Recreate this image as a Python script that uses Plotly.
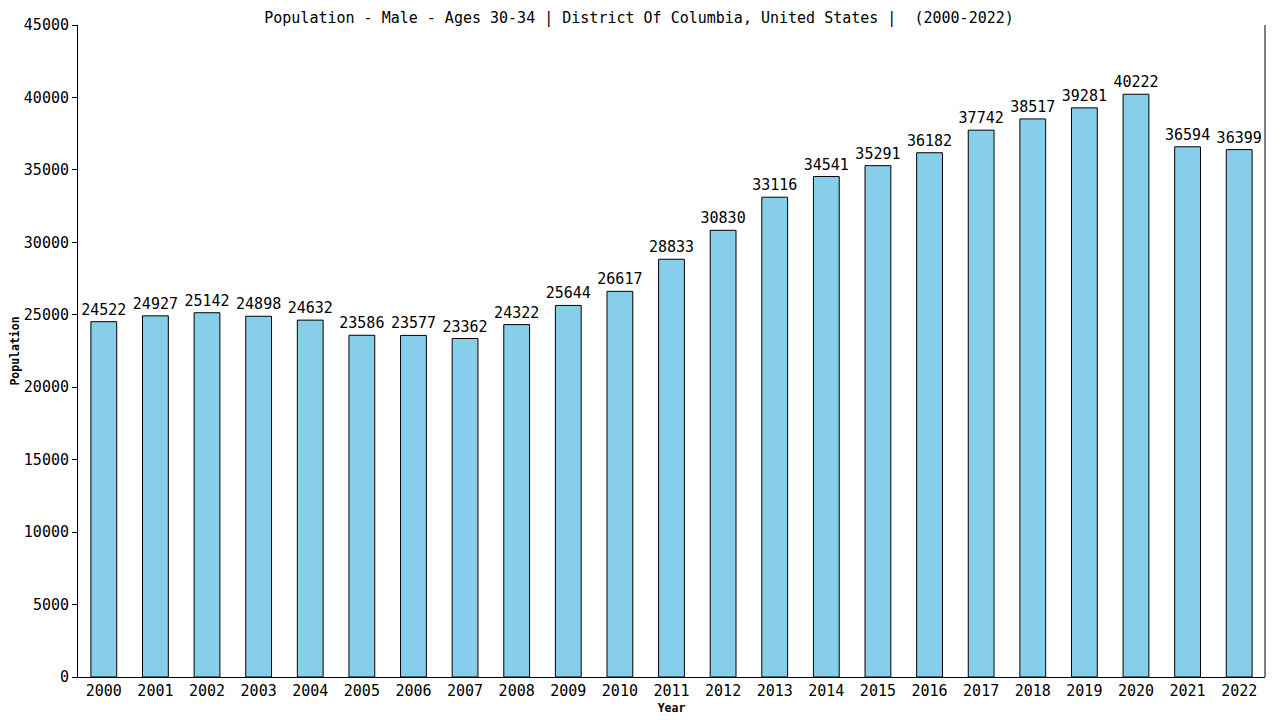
import plotly.graph_objects as go

# Population values
years = [str(y) for y in range(2000, 2023)]
population = [24522, 24927, 25142, 24898, 24632, 23586, 23577, 23362, 24322, 25644,
              26617, 28833, 30830, 33116, 34541, 35291, 36182, 37742, 38517, 39281,
              40222, 36594, 36399]
y_ticks = list(range(0, 45001, 5000))

font_name = "DejaVu Sans Mono"

fig = go.Figure(go.Bar(
    x=years,
    y=population,
    width=0.5,
    marker=dict(color="#87CEEB", line=dict(color="black", width=1)),
    text=[str(v) for v in population],
    textposition="outside",
    constraintext="none",
    cliponaxis=False,
    textfont=dict(family=font_name, size=15, color="black"),
))

# the page puts the figure 8px in from the corner, margins account for it
fig.update_layout(
    width=1280, height=720,
    autosize=False,
    paper_bgcolor="white",
    plot_bgcolor="white",
    margin=dict(l=70, r=23, t=17, b=51, autoexpand=False),
    font=dict(family=font_name, size=15, color="black"),
    title=dict(
        text="Population - Male - Ages 30-34 | District Of Columbia, United States |  (2000-2022)",
        x=0.493, xanchor="center", xref="container", y=0.994, yanchor="top",
        font=dict(family=font_name, size=15, color="black"),
    ),
    showlegend=False,
    bargap=0.5,
)

fig.update_xaxes(
    title=dict(text="<b>Year</b>", font=dict(size=11.5), standoff=4),
    showline=True, linecolor="black", linewidth=1,
    mirror=False, ticks="", showgrid=False, automargin=False,
    tickfont=dict(size=15),
)

fig.update_yaxes(
    title=dict(text="<b>Population</b>", font=dict(size=11.5), standoff=4),
    range=[0, 45000],
    tickvals=y_ticks,
    ticktext=[str(t) for t in y_ticks],
    showline=True, linecolor="black", linewidth=1,
    ticks="outside", ticklen=5, tickcolor="black",
    showgrid=False, zeroline=False, automargin=False,
    tickfont=dict(size=15),
)

# right border line of the plot frame
fig.add_shape(type="line", xref="paper", yref="paper", x0=1, x1=1, y0=0, y1=1,
              line=dict(color="black", width=1))

fig.write_html("out.html")
